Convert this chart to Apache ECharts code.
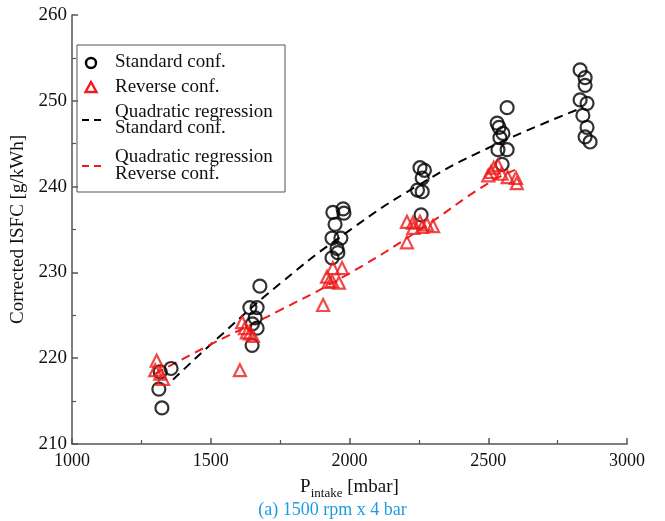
<!DOCTYPE html>
<html>
<head>
<meta charset="utf-8">
<script src="https://cdn.jsdelivr.net/npm/echarts@6/dist/echarts.min.js"></script>
<style>
  html, body { margin: 0; padding: 0; background: #fff; }
  #chart { width: 665px; height: 521px; }
</style>
</head>
<body>
<div id="chart"></div>
<script>
// Standard configuration measurements: intake pressure [mbar] and corrected ISFC [g/kWh]
const stdX = [1313, 1324, 1357, 1318,
  1677, 1641, 1667, 1660, 1667, 1649, 1650,
  1940, 1977, 1980, 1948, 1937, 1969, 1955, 1958, 1937,
  2254, 2270, 2262, 2245, 2262, 2258,
  2568, 2532, 2539, 2553, 2542, 2535, 2568, 2550,
  2831, 2849, 2849, 2831, 2856, 2841, 2856, 2849, 2867];
const stdY = [216.4, 214.2, 218.8, 218.4,
  228.4, 225.9, 225.9, 224.7, 223.5, 221.5, 224.0,
  237.0, 237.4, 236.9, 235.6, 234.0, 234.0, 232.8, 232.3, 231.7,
  242.2, 241.9, 241.0, 239.6, 239.4, 236.7,
  249.2, 247.4, 246.9, 246.2, 245.7, 244.3, 244.3, 242.6,
  253.6, 252.7, 251.8, 250.1, 249.7, 248.3, 246.9, 245.8, 245.2];

// Reverse configuration measurements
const revX = [1305, 1300, 1318, 1328,
  1613, 1623, 1641, 1652, 1605, 1630,
  1940, 1973, 1919, 1937, 1962, 1905, 1925,
  2207, 2229, 2254, 2279, 2230, 2262, 2207, 2301,
  2520, 2535, 2510, 2548, 2570, 2600, 2603, 2500];
const revY = [219.7, 218.6, 218.2, 217.6,
  224.2, 223.5, 222.9, 222.6, 218.6, 223.0,
  230.5, 230.5, 229.5, 229.0, 228.8, 226.2, 228.9,
  235.9, 235.8, 235.9, 235.6, 235.2, 235.3, 233.5, 235.4,
  242.2, 242.5, 241.7, 241.5, 241.1, 241.0, 240.4, 241.3];

// Quadratic regression curves, sampled along the fitted lines
const fitStdX = [1364, 1500, 1750, 2000, 2250, 2500, 2840];
const fitStdY = [217.5, 221.6, 228.7, 234.9, 240.2, 244.5, 249.2];
const fitRevX = [1300, 1500, 1750, 2000, 2250, 2500, 2600];
const fitRevY = [218.2, 221.6, 225.6, 229.9, 234.9, 240.4, 242.0];

// Axis ticks
const xTicks = [1000, 1500, 2000, 2500, 3000];
const yTicks = [210, 220, 230, 240, 250, 260];

const pairs = (xs, ys) => xs.map((x, i) => [x, ys[i]]);

const SERIF = 'Liberation Serif, Times New Roman, serif';
const RED = '#ee1c1c';
const AXIS = '#555';

const chart = echarts.init(document.getElementById('chart'));

// Legend drawn as a framed block in the upper-left of the plot
const lx = 77, ly = 45;
const legendText = (x, y, s) => ({
  type: 'text', left: x, top: y,
  style: { text: s, font: '19px ' + SERIF, fill: '#111' }
});
const legend = [
  { type: 'rect', shape: { x: lx, y: ly, width: 208, height: 147 },
    style: { fill: '#fff', stroke: AXIS, lineWidth: 1 } },
  { type: 'circle', shape: { cx: 91, cy: 63, r: 5 },
    style: { fill: 'none', stroke: '#000', lineWidth: 2.4 } },
  legendText(115, 53, 'Standard conf.'),
  { type: 'polygon', shape: { points: [[91, 82], [85.5, 92], [96.5, 92]] },
    style: { fill: 'none', stroke: RED, lineWidth: 2.4 } },
  legendText(115, 78, 'Reverse conf.'),
  { type: 'line', shape: { x1: 82, y1: 120, x2: 106, y2: 120 },
    style: { stroke: '#000', lineWidth: 2, lineDash: [7, 5] } },
  legendText(115, 103, 'Quadratic regression'),
  legendText(115, 119, 'Standard conf.'),
  { type: 'line', shape: { x1: 82, y1: 166, x2: 106, y2: 166 },
    style: { stroke: RED, lineWidth: 2, lineDash: [7, 5] } },
  legendText(115, 148, 'Quadratic regression'),
  legendText(115, 165, 'Reverse conf.')
];

chart.setOption({
  animation: false,
  backgroundColor: '#fff',
  title: {
    text: '(a) 1500 rpm x 4 bar',
    left: 'center', top: 496,
    textStyle: { fontFamily: SERIF, fontSize: 18, fontWeight: 'normal', color: '#1e9be0' }
  },
  grid: { left: 72, right: 38, top: 15, bottom: 77, containLabel: false },
  xAxis: {
    type: 'value', min: xTicks[0], max: xTicks[xTicks.length - 1], interval: 500,
    name: '{p|P}{s|intake}{p| [mbar]}',
    nameLocation: 'middle', nameGap: 31,
    nameTextStyle: {
      rich: {
        p: { fontFamily: SERIF, fontSize: 19, color: '#111' },
        s: { fontFamily: SERIF, fontSize: 13, color: '#111', padding: [12, 0, 0, 0] }
      }
    },
    axisLine: { show: true, onZero: false, lineStyle: { color: AXIS, width: 1.5 } },
    axisTick: { show: true, inside: true, length: 6, lineStyle: { color: AXIS, width: 1.5 } },
    minorTick: { show: true, splitNumber: 2, length: 4, lineStyle: { color: AXIS, width: 1.2 } },
    splitLine: { show: false },
    axisLabel: { fontFamily: SERIF, fontSize: 18, color: '#111', margin: 8,
      formatter: v => String(v) }
  },
  yAxis: {
    type: 'value', min: yTicks[0], max: yTicks[yTicks.length - 1], interval: 10,
    name: 'Corrected ISFC [g/kWh]',
    nameLocation: 'middle', nameGap: 44, nameRotate: 90,
    nameTextStyle: { fontFamily: SERIF, fontSize: 19, color: '#111' },
    axisLine: { show: true, onZero: false, lineStyle: { color: AXIS, width: 1.5 } },
    axisTick: { show: true, inside: true, length: 6, lineStyle: { color: AXIS, width: 1.5 } },
    minorTick: { show: true, splitNumber: 2, length: 4, lineStyle: { color: AXIS, width: 1.2 } },
    splitLine: { show: false },
    axisLabel: { fontFamily: SERIF, fontSize: 19, color: '#111', margin: 5,
      formatter: v => String(v) }
  },
  series: [
    {
      name: 'Quadratic regression Standard conf.', type: 'line', smooth: true,
      data: pairs(fitStdX, fitStdY), symbol: 'none', z: 3,
      lineStyle: { color: '#000', width: 2, type: [9, 6] }
    },
    {
      name: 'Quadratic regression Reverse conf.', type: 'line', smooth: true,
      data: pairs(fitRevX, fitRevY), symbol: 'none', z: 3,
      lineStyle: { color: RED, width: 2, type: [9, 6] }
    },
    {
      name: 'Standard conf.', type: 'scatter', data: pairs(stdX, stdY),
      symbol: 'circle', symbolSize: 13, z: 4,
      itemStyle: { color: 'transparent', borderColor: '#000', borderWidth: 2.2 }
    },
    {
      name: 'Reverse conf.', type: 'scatter', data: pairs(revX, revY),
      symbol: 'triangle', symbolSize: 12, z: 5,
      itemStyle: { color: 'transparent', borderColor: RED, borderWidth: 2.2 }
    }
  ],
  graphic: legend
});
</script>
</body>
</html>
